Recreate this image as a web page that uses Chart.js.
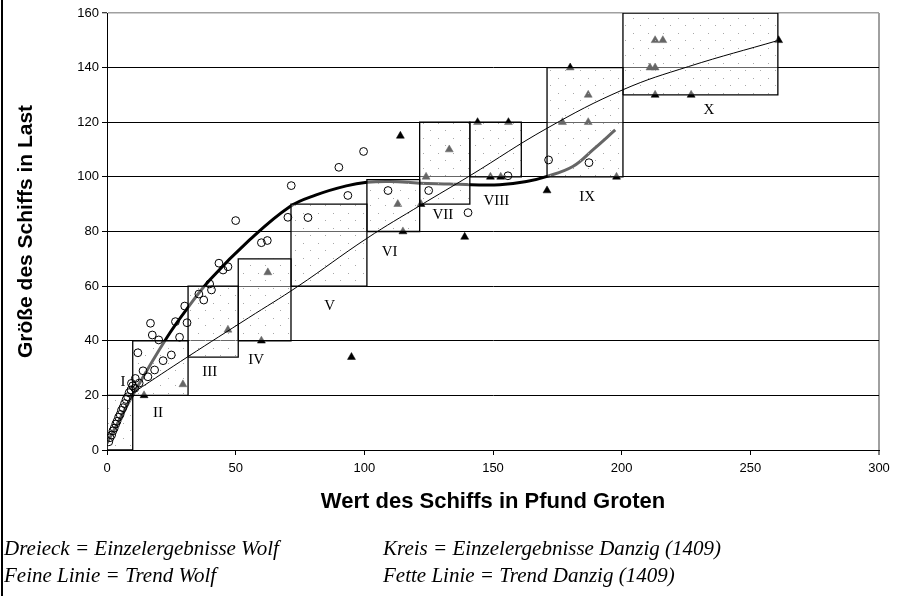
<!DOCTYPE html>
<html>
<head>
<meta charset="utf-8">
<title>Schiffsgröße und Wert</title>
<script src="https://cdn.jsdelivr.net/npm/chart.js@4.4.0/dist/chart.umd.min.js"></script>
<style>
    body { margin: 0; background: #fff; }
    #wrap { position: relative; width: 923px; height: 596px; overflow: hidden; }
    #border { position: absolute; left: 1px; top: 0; width: 2px; height: 596px; background: #000; }
    .note { position: absolute; font-family: "Liberation Serif", "Times New Roman", serif; font-style: italic;
            font-size: 21px; line-height: 21px; color: #000; white-space: nowrap; }
</style>
</head>
<body>
<div id="wrap">
    <canvas id="chart" width="923" height="596"></canvas>
    <div id="border"></div>
    <div class="note" style="left:4px; top:538px">Dreieck = Einzelergebnisse Wolf</div>
    <div class="note" style="left:383px; top:538px">Kreis = Einzelergebnisse Danzig (1409)</div>
    <div class="note" style="left:4px; top:565px">Feine Linie = Trend Wolf</div>
    <div class="note" style="left:383px; top:565px">Fette Linie = Trend Danzig (1409)</div>
</div>
<script>
// Dreiecke - Einzelergebnisse Wolf
const wolfX = [14.4, 29.5, 47, 60, 62.5, 95, 113, 114, 115, 122, 124, 133, 139, 144, 149, 153, 156,
    171, 177, 180, 187, 187, 198, 211, 213, 213, 213, 216, 227, 261];
const wolfY = [20, 24, 44, 40, 65, 34, 90, 115, 80, 90, 100, 110, 78, 120, 100, 100, 120,
    95, 120, 140, 120, 130, 100, 140, 140, 130, 150, 150, 130, 150];

// Kreise - Einzelergebnisse Danzig (1409)
const danzigX = [0.7, 1.2, 1.8, 2.3, 2.8, 3.4, 3.9, 4.5, 5.1, 5.6, 6.2, 6.8, 7.4, 8, 8.6, 9.3, 10, 10.8, 9.5,
    11, 12.5, 14, 12, 15.9, 18.5, 16.9, 17.6, 20.1, 21.8, 25, 26.6, 28.2, 30.2, 31.1, 35.7, 37.6, 39.9, 40.6,
    43.5, 45.1, 47, 50, 60, 62.3, 70.3, 71.6, 78.1, 90.1, 93.6, 99.7, 109.2, 125, 140.3, 155.8, 171.6, 187.3];
const danzigY = [3, 4.5, 5.5, 7, 8, 9.5, 10.5, 12, 13, 14.5, 15.5, 17, 18.5, 19.5, 21, 22, 23.5, 22.6, 24.4,
    26.2, 24.5, 29, 35.6, 26.8, 29.3, 46.4, 42.1, 40.3, 32.7, 34.8, 47, 41.3, 52.7, 46.6, 57.1, 54.9, 60.8, 58.6,
    68.4, 65.9, 67.1, 84, 75.9, 76.7, 85.2, 96.8, 85.1, 103.5, 93.2, 109.3, 95, 95, 86.9, 100.4, 106.2, 105.2];

// Trendlinien
const trendWolfX = [11, 31.5, 55, 74, 101, 122, 141, 171, 200.5, 226, 261];
const trendWolfY = [21.5, 34.2, 48.4, 59.8, 77.5, 89.7, 100.4, 117.8, 131.9, 140.4, 150];
const trendDanzigX = [0, 10.8, 23.1, 30.8, 40, 55.4, 71, 81.3, 93, 101, 110, 121.5, 133.2, 141.6, 152.6,
    163, 170.7, 181, 188.8, 197.5];
const trendDanzigY = [2.5, 21.4, 40.9, 51.3, 62.3, 76.9, 89.1, 93.4, 96.7, 98, 98.3, 97.7, 97.4, 97.1, 97.1,
    98.3, 100.1, 103.8, 109.9, 117.2];

// Klassen I - X
const boxNames = ['I', 'II', 'III', 'IV', 'V', 'VI', 'VII', 'VIII', 'IX', 'X'];
const boxX0 = [0, 10, 31.5, 51, 71.5, 101, 121.5, 141, 171, 200.5];
const boxX1 = [10, 31.5, 51, 71.5, 101, 121.5, 141, 161, 200.5, 260.7];
const boxY0 = [0, 20, 34, 40, 60, 80, 90, 100, 100, 130];
const boxY1 = [20, 40, 60, 70, 90, 99, 120, 120, 140, 160];
const nameX = [6.2, 19.8, 39.9, 58, 86.5, 109.8, 130.5, 151.3, 186.6, 233.9];
const nameY = [25, 13.4, 28.7, 33, 52.7, 72.6, 86.1, 91, 92.6, 124.5];

const xTicks = [0, 50, 100, 150, 200, 250, 300];
const yTicks = [0, 20, 40, 60, 80, 100, 120, 140, 160];

const sans = '"Liberation Sans", Arial, sans-serif';
const toPoints = (xs, ys) => xs.map((v, i) => ({ x: v, y: ys[i] }));

function dotPattern() {
    const c = document.createElement('canvas');
    c.width = 15;
    c.height = 15;
    const g = c.getContext('2d');
    g.fillStyle = 'rgba(255,255,255,0.4)';
    g.fillRect(0, 0, 15, 15);
    g.fillStyle = '#a8a8a8';
    g.fillRect(3, 3, 1, 1);
    g.fillRect(10, 10, 1, 1);
    return g.createPattern(c, 'repeat');
}

const pattern = dotPattern();

const boxDatasets = boxNames.map((name, i) => ({
    label: 'Klasse ' + name,
    data: toPoints([boxX0[i], boxX1[i], boxX1[i], boxX0[i], boxX0[i]],
                   [boxY0[i], boxY0[i], boxY1[i], boxY1[i], boxY0[i]]),
    borderColor: '#000',
    borderWidth: 1.3,
    backgroundColor: pattern,
    fill: 'shape',
    pointRadius: 0,
    tension: 0,
    order: 2
}));

const boxLabels = {
    id: 'boxLabels',
    afterDatasetsDraw(chart) {
        const { ctx, scales: { x, y } } = chart;
        ctx.save();
        ctx.font = '15px "Liberation Serif", "Times New Roman", serif';
        ctx.fillStyle = '#000';
        ctx.textAlign = 'center';
        ctx.textBaseline = 'middle';
        boxNames.forEach((n, i) => {
            ctx.fillText(n, x.getPixelForValue(nameX[i]), y.getPixelForValue(nameY[i]));
        });
        ctx.restore();
    }
};

new Chart(document.getElementById('chart'), {
    type: 'line',
    data: {
        datasets: [
            {
                label: 'Kreis = Einzelergebnisse Danzig (1409)',
                data: toPoints(danzigX, danzigY),
                showLine: false,
                pointStyle: 'circle',
                pointRadius: 3.9,
                pointBorderWidth: 1,
                pointBorderColor: '#000',
                pointBackgroundColor: 'rgba(0,0,0,0)',
                order: 0
            },
            {
                label: 'Feine Linie = Trend Wolf',
                data: toPoints(trendWolfX, trendWolfY),
                borderColor: '#000',
                borderWidth: 1,
                pointRadius: 0,
                tension: 0.4,
                order: 1
            },
            ...boxDatasets,
            {
                label: 'Fette Linie = Trend Danzig (1409)',
                data: toPoints(trendDanzigX, trendDanzigY),
                borderColor: '#000',
                borderWidth: 3,
                pointRadius: 0,
                tension: 0.4,
                order: 3
            },
            {
                label: 'Dreieck = Einzelergebnisse Wolf',
                data: toPoints(wolfX, wolfY),
                showLine: false,
                pointStyle: 'triangle',
                pointRadius: 4.6,
                pointBorderWidth: 0.5,
                pointBorderColor: '#000',
                pointBackgroundColor: '#000',
                order: 4
            }
        ]
    },
    options: {
        responsive: false,
        animation: false,
        layout: { padding: { left: 0, top: 13, right: 44, bottom: 0 } },
        plugins: { legend: { display: false }, tooltip: { enabled: false } },
        scales: {
            x: {
                type: 'linear',
                min: 0,
                max: 300,
                afterBuildTicks: s => { s.ticks = xTicks.map(v => ({ value: v })); },
                afterFit: s => { s.height = 146; },
                grid: {
                    color: c => (c.tick && c.tick.value === 300) ? '#a0a0a0' : 'rgba(0,0,0,0)',
                    lineWidth: c => (c.tick && c.tick.value === 300) ? 2 : 1,
                    tickColor: '#000',
                    tickWidth: 1,
                    tickLength: 5
                },
                border: { color: '#000', width: 1 },
                ticks: { font: { family: sans, size: 13 }, color: '#000', padding: 6, maxRotation: 0 },
                title: {
                    display: true,
                    text: 'Wert des Schiffs in Pfund Groten',
                    font: { family: sans, size: 22, weight: 'bold' },
                    color: '#000',
                    padding: { top: 0, bottom: 81 }
                }
            },
            y: {
                min: 0,
                max: 160,
                afterBuildTicks: s => { s.ticks = yTicks.map(v => ({ value: v })); },
                afterFit: s => { s.width = 107; },
                grid: {
                    color: c => (c.tick && c.tick.value === 160) ? '#a0a0a0' : '#000',
                    lineWidth: c => (c.tick && c.tick.value === 160) ? 1.5 : 1,
                    tickColor: '#000',
                    tickWidth: 1,
                    tickLength: 5
                },
                border: { color: '#000', width: 1 },
                ticks: { font: { family: sans, size: 13 }, color: '#000', padding: 3 },
                title: {
                    display: true,
                    text: 'Größe des Schiffs in Last',
                    font: { family: sans, size: 21, weight: 'bold' },
                    color: '#000',
                    padding: { top: 14, bottom: 0 }
                }
            }
        }
    },
    plugins: [boxLabels]
});
</script>
</body>
</html>
